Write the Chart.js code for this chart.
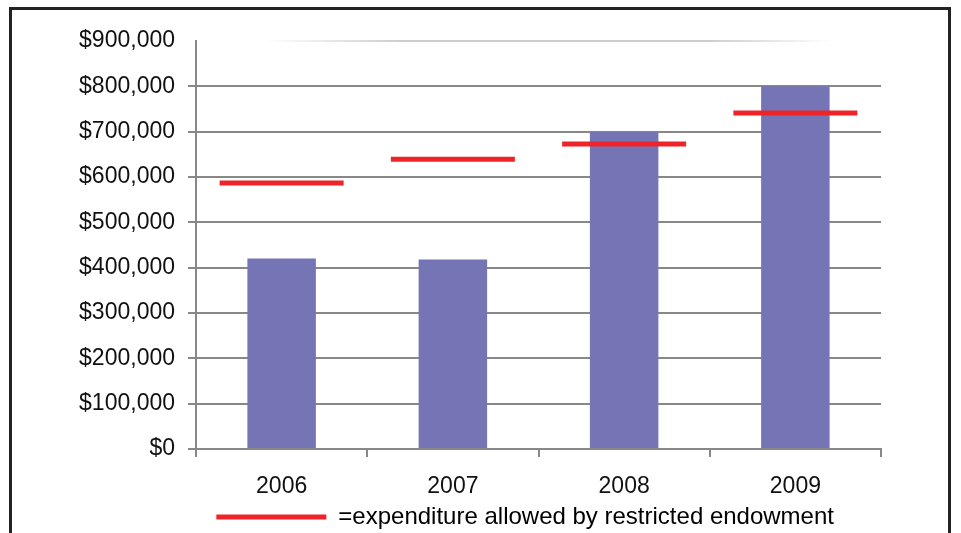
<!DOCTYPE html>
<html>
<head>
<meta charset="utf-8">
<script src="https://cdn.jsdelivr.net/npm/chart.js@4"></script>
<style>
  body { margin: 0; background: #fff; overflow: hidden; }
  #wrap { position: relative; width: 961px; height: 533px; }
  #frame { position: absolute; left: 9px; top: 7px; width: 936px; height: 600px; border: 3px solid #222; pointer-events: none; }
</style>
</head>
<body>
<div id="wrap">
  <canvas id="myChart" width="961" height="533"></canvas>
  <div id="frame"></div>
</div>
<script>
// 연도, 막대값, 허용 지출(빨간 선)
const years = ['2006', '2007', '2008', '2009'];
const spending = [420000, 418000, 700000, 800000];
const allowed = [587000, 639000, 673000, 741000];
const yTicks = [0, 100000, 200000, 300000, 400000, 500000, 600000, 700000, 800000, 900000];

const fontFam = '"Liberation Sans", Arial, sans-serif';

const ctx = document.getElementById('myChart').getContext('2d');
const myChart = new Chart(ctx, {
    type: 'bar',
    data: {
        labels: years,
        datasets: [{
            //빨간 가로선
            label: '=expenditure allowed by restricted endowment',
            type: 'line',
            data: allowed,
            showLine: false,
            pointStyle: 'line',
            pointRadius: 62,
            pointHoverRadius: 62,
            pointBorderWidth: 5,
            pointHoverBorderWidth: 5,
            borderColor: '#ee2428',
            backgroundColor: '#ee2428',
            order: 0
        },
        {
            label: 'spending',
            data: spending,
            backgroundColor: '#7575b5',
            borderWidth: 0,
            barPercentage: 0.4,
            categoryPercentage: 1,
            order: 1
        }]
    },
    options: {
        responsive: false,
        animation: false,
        layout: {
            autoPadding: false,
            padding: { left: 0, right: 80, top: 41, bottom: -6 }
        },
        scales: {
            x: {
                afterFit: s => { s.height = 55; },
                grid: {
                    offset: true,
                    drawOnChartArea: false,
                    tickLength: 8,
                    color: '#888',
                    lineWidth: 2
                },
                border: { display: true, color: '#888', width: 2 },
                ticks: {
                    padding: 16,
                    color: '#111',
                    font: { family: fontFam, size: 23 }
                }
            },
            y: {
                min: 0,
                max: 900000,
                afterFit: s => { s.width = 196; },
                afterBuildTicks: s => { s.ticks = yTicks.map(v => ({ value: v })); },
                grid: {
                    tickLength: 8,
                    lineWidth: 2,
                    color: c => {
                        if (c.tick && c.tick.value === 900000) {
                            const g = c.chart.ctx.createLinearGradient(196, 0, 881, 0);
                            g.addColorStop(0, 'rgba(200,200,200,0)');
                            g.addColorStop(0.1, 'rgba(200,200,200,0)');
                            g.addColorStop(0.3, 'rgba(200,200,200,0.9)');
                            g.addColorStop(0.75, 'rgba(200,200,200,0.9)');
                            g.addColorStop(0.93, 'rgba(200,200,200,0)');
                            return g;
                        }
                        return '#888';
                    }
                },
                border: { display: true, color: '#888', width: 2 },
                ticks: {
                    padding: 13,
                    color: '#111',
                    font: { family: fontFam, size: 23 },
                    callback: v => '$' + v.toLocaleString('en-US')
                }
            }
        },
        plugins: {
            legend: {
                position: 'bottom',
                fullSize: false,
                labels: {
                    boxWidth: 110,
                    boxHeight: 5,
                    padding: 1,
                    color: '#111',
                    font: { family: fontFam, size: 24 },
                    generateLabels: chart => [{
                        // 뒤 공백은 가운데 정렬 위치 맞추기용
                        text: '=expenditure allowed by restricted endowment    ',
                        fillStyle: '#ee2428',
                        strokeStyle: '#ee2428',
                        lineWidth: 0,
                        datasetIndex: 0
                    }]
                }
            },
            tooltip: { enabled: false }
        }
    }
});
</script>
</body>
</html>
